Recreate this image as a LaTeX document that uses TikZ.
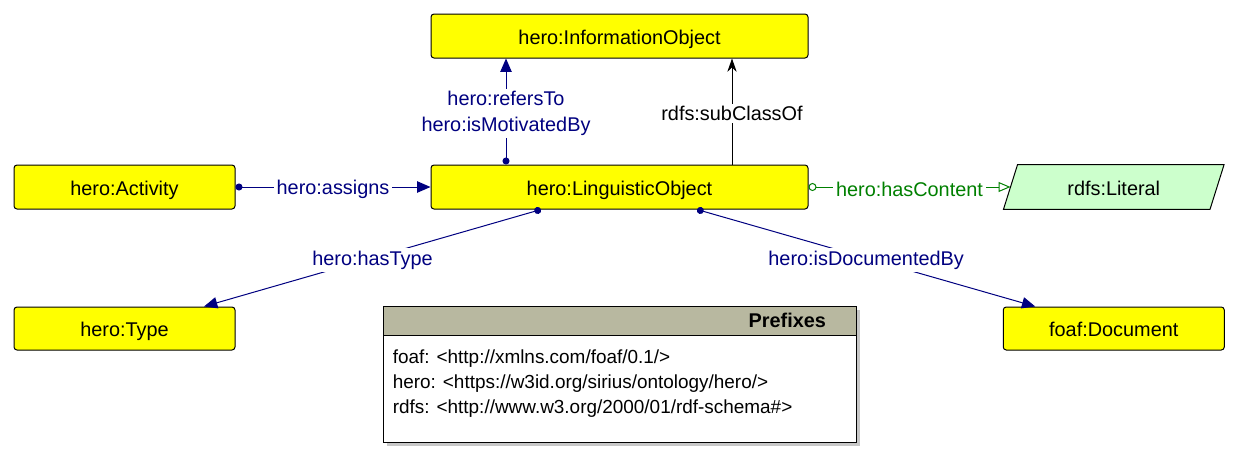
\documentclass[tikz,border=0pt]{standalone}
\usepackage{fontspec}
\setmainfont{Liberation Sans}
\usetikzlibrary{arrows.meta, positioning, calc, shadows, backgrounds}
\definecolor{HeroYellow}{HTML}{FFFF00}
\definecolor{HeroNavy}{HTML}{000080}
\definecolor{HeroGreen}{HTML}{008000}
\definecolor{HeroMint}{HTML}{CCFFCC}
\definecolor{HeroOlive}{HTML}{B8B8A0}
\newcommand{\lblfont}{\fontsize{14.9}{19.5}\selectfont}
\tikzset{
  cls/.style={draw, line width=0.75pt, rounded corners=2.25pt, fill=HeroYellow, font=\lblfont,
              minimum height=33pt, inner sep=0pt, text height=12.5pt, text depth=0.5pt},
  lit/.style={font=\lblfont, minimum height=33pt, minimum width=154.5pt, inner sep=0pt,
              text height=12.5pt, text depth=0.5pt},
  rel/.style={line width=0.75pt, color=HeroNavy, {Circle[length=5.25pt]}-{Triangle[length=10pt,width=8.5pt]}},
  lbl/.style={fill=white, font=\lblfont, inner sep=2pt, align=center, yshift=-1.5pt}
}

\begin{document}
\begin{tikzpicture}[x=0.75pt, y=-0.75pt]
  \useasboundingbox (0,0) rectangle (1240,461);
  \node[cls, minimum width=282.75pt] (LO) at (619.5,187) {hero:LinguisticObject};
  \node[cls, minimum width=282.75pt, above=79.5pt of LO] (IO) {hero:InformationObject};
  \node[cls, minimum width=165.75pt, left=146.25pt of LO] (Act) {hero:Activity};
  \node[lit, right=151.5pt of LO] (Lit) {rdfs:Literal};
  \begin{scope}[on background layer]
    \draw[line width=0.75pt, fill=HeroMint] ($(Lit.north west)+(7,0)$) -- ($(Lit.north east)+(7,0)$)
      -- ($(Lit.south east)+(-7,0)$) -- ($(Lit.south west)+(-7,0)$) -- cycle;
  \end{scope}
  \node[cls, minimum width=165.75pt, minimum height=32.25pt, below=72.75pt of Act] (Typ) {hero:Type};
  \node[cls, minimum width=165.75pt, minimum height=32.25pt] (Doc) at (Typ -| Lit.center) {foaf:Document};
  % prefixes box
  \node[draw, line width=0.75pt, fill=white, minimum width=354.75pt, minimum height=102pt, below=72pt of LO,
        drop shadow={shadow xshift=3pt, shadow yshift=-3pt, fill=black!22, opacity=1}] (Pfx) {};
  \node[draw, line width=0.75pt, fill=HeroOlive, minimum height=21.75pt, inner xsep=22.5pt, inner ysep=0pt,
        text width=309.75pt, align=right, font=\lblfont\bfseries, anchor=north] (PfxHead) at (Pfx.north) {Prefixes};
  \node[anchor=west, align=left, inner sep=0pt, font=\fontsize{14.2}{18.75}\selectfont] (PfxBody)
        at ($(Pfx.west)+(10,10)$) {foaf: <http://xmlns.com/foaf/0.1/>\\
        hero: <https://w3id.org/sirius/ontology/hero/>\\
        rdfs: <http://www.w3.org/2000/01/rdf-schema\#>};
  % relations
  \coordinate (refA) at ($(LO.north)+(-113.5,0)$);
  \coordinate (subA) at ($(LO.north)+(112.5,0)$);
  \draw[rel] (refA) -- (refA |- IO.south) node[lbl, midway] {hero:refersTo\\hero:isMotivatedBy};
  \draw[line width=0.75pt, -{Stealth[length=10pt,width=7pt]}] (subA) -- (subA |- IO.south)
        node[lbl, midway] {rdfs:subClassOf};
  \draw[rel] (Act) -- (LO) node[lbl, midway] {hero:assigns};
  \draw[line width=0.75pt, color=HeroGreen, {Circle[open,length=6pt]}-{Triangle[open,length=9pt,width=7.5pt]}]
        (LO) -- (Lit) node[lbl, midway] {hero:hasContent};
  \draw[rel] ($(LO.south)+(-78.5,0)$) -- ($(Typ.north)+(79.5,0)$) node[lbl, midway] {hero:hasType};
  \draw[rel] ($(LO.south)+(77.5,0)$) -- ($(Doc.north)+(-78.5,0)$) node[lbl, midway] {hero:isDocumentedBy};
\end{tikzpicture}
\end{document}
